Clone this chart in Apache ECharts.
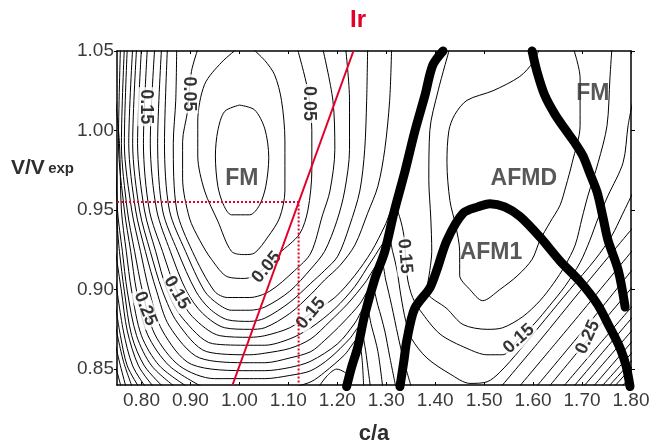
<!DOCTYPE html>
<html>
<head>
<meta charset="utf-8">
<script src="https://cdn.jsdelivr.net/npm/echarts@6/dist/echarts.min.js"></script>
<style>
  html, body { margin: 0; padding: 0; background: #fff; }
  #chart { width: 649px; height: 445px; }
</style>
</head>
<body>
<div id="chart"></div>
<script>
// tick values
const xTicks = [0.8, 0.9, 1.0, 1.1, 1.2, 1.3, 1.4, 1.5, 1.6, 1.7, 1.8];
const yTicks = [0.85, 0.90, 0.95, 1.00, 1.05];

// energy contours, points are [c/a, V/Vexp]
// FM basin (left), step 0.02
const fm01 = [[1.000,1.016],[1.031,1.013],[1.052,1.001],[1.060,0.983],[1.054,0.965],[1.041,0.953],[1.021,0.947],[0.984,0.947],[0.968,0.953],[0.956,0.965],[0.951,0.984],[0.956,1.000],[0.970,1.012],[1.000,1.016]];
const fm03 = [[0.998,1.052],[0.964,1.043],[0.929,1.029],[0.915,1.006],[0.915,0.984],[0.929,0.962],[0.956,0.943],[0.984,0.924],[1.011,0.922],[1.031,0.923],[1.058,0.933],[1.082,0.945],[1.093,0.962],[1.093,0.994],[1.086,1.019],[1.072,1.035],[1.052,1.044],[1.025,1.052]];
const fm05 = [[0.916,1.052],[0.902,1.037],[0.894,1.012],[0.884,0.993],[0.884,0.970],[0.898,0.945],[0.919,0.931],[0.943,0.919],[0.976,0.908],[1.011,0.907],[1.037,0.910],[1.082,0.923],[1.123,0.935],[1.140,0.950],[1.148,0.975],[1.148,1.000],[1.140,1.025],[1.118,1.052]];
const fm07 = [[0.872,1.052],[0.870,1.019],[0.865,0.992],[0.872,0.950],[0.904,0.924],[0.949,0.899],[0.976,0.895],[1.021,0.895],[1.062,0.899],[1.113,0.912],[1.146,0.923],[1.170,0.947],[1.185,0.962],[1.195,0.988],[1.191,1.019],[1.170,1.052]];
const fm09 = [[0.853,1.052],[0.847,0.992],[0.857,0.950],[0.890,0.924],[0.929,0.899],[0.956,0.891],[0.984,0.887],[1.021,0.887],[1.052,0.889],[1.103,0.899],[1.146,0.913],[1.174,0.924],[1.199,0.943],[1.215,0.962],[1.225,0.988],[1.225,1.019],[1.217,1.052]];
const fm11 = [[0.841,1.052],[0.833,0.992],[0.843,0.950],[0.874,0.924],[0.911,0.899],[0.939,0.888],[0.976,0.881],[1.021,0.880],[1.052,0.882],[1.103,0.892],[1.146,0.904],[1.174,0.912],[1.201,0.921],[1.225,0.940],[1.246,0.962],[1.256,0.988],[1.260,1.019],[1.262,1.052]];
const fm13 = [[0.827,1.052],[0.818,0.992],[0.831,0.950],[0.859,0.924],[0.892,0.899],[0.925,0.885],[0.970,0.876],[1.021,0.875],[1.052,0.876],[1.103,0.885],[1.146,0.897],[1.174,0.906],[1.205,0.915],[1.236,0.928],[1.262,0.948],[1.283,0.965],[1.297,0.988],[1.307,1.019],[1.311,1.052]];
const fm15 = [[0.812,1.052],[0.804,0.992],[0.816,0.950],[0.843,0.924],[0.872,0.899],[0.904,0.883],[0.960,0.871],[1.021,0.870],[1.052,0.871],[1.103,0.876],[1.146,0.885],[1.195,0.895],[1.236,0.909],[1.270,0.924],[1.297,0.940],[1.317,0.953],[1.328,0.945],[1.336,0.934],[1.340,0.919],[1.344,0.906],[1.354,0.895],[1.369,0.887],[1.410,0.872],[1.465,0.863],[1.506,0.859],[1.538,0.859],[1.571,0.869],[1.604,0.879],[1.634,0.890],[1.665,0.902],[1.696,0.917],[1.716,0.931],[1.733,0.945],[1.753,0.959],[1.784,0.980],[1.794,1.003],[1.804,1.019]];
const fm17 = [[0.800,1.052],[0.792,0.992],[0.806,0.950],[0.829,0.924],[0.853,0.899],[0.884,0.882],[0.945,0.866],[1.021,0.865],[1.052,0.865],[1.103,0.869],[1.146,0.876],[1.195,0.888],[1.236,0.902],[1.270,0.918],[1.305,0.932],[1.313,0.924],[1.322,0.912],[1.330,0.896],[1.340,0.880],[1.352,0.869],[1.383,0.857],[1.430,0.847],[1.471,0.841],[1.506,0.842],[1.532,0.848],[1.573,0.862],[1.624,0.881],[1.675,0.900],[1.727,0.919],[1.761,0.934],[1.782,0.947],[1.804,0.961]];
const fm19 = [[0.790,1.052],[0.782,0.992],[0.796,0.950],[0.818,0.924],[0.843,0.899],[0.874,0.879],[0.933,0.861],[1.021,0.859],[1.052,0.860],[1.103,0.863],[1.146,0.869],[1.185,0.880],[1.221,0.891],[1.256,0.904],[1.289,0.918],[1.299,0.906],[1.311,0.890],[1.324,0.871],[1.336,0.855],[1.352,0.838]];
const fm21 = [[0.782,1.052],[0.774,0.992],[0.788,0.950],[0.808,0.924],[0.831,0.899],[0.857,0.877],[0.919,0.857],[1.021,0.854],[1.052,0.854],[1.103,0.857],[1.146,0.861],[1.174,0.868],[1.211,0.879],[1.246,0.891],[1.270,0.902],[1.283,0.890],[1.297,0.874],[1.307,0.858],[1.320,0.838]];
const fm23 = [[0.771,1.052],[0.765,0.992],[0.780,0.950],[0.798,0.924],[0.816,0.899],[0.843,0.874],[0.902,0.853],[1.021,0.849],[1.052,0.849],[1.103,0.851],[1.146,0.855],[1.201,0.866],[1.236,0.879],[1.258,0.890],[1.270,0.877],[1.283,0.861],[1.293,0.838]];
const fm25 = [[0.765,1.052],[0.759,0.992],[0.771,0.950],[0.786,0.924],[0.802,0.899],[0.827,0.872],[0.878,0.852],[0.949,0.844],[1.021,0.844],[1.052,0.844],[1.103,0.846],[1.146,0.849],[1.185,0.857],[1.225,0.869],[1.246,0.877],[1.256,0.865],[1.262,0.852],[1.268,0.838]];
const fm27 = [[0.757,1.052],[0.753,0.992],[0.765,0.950],[0.778,0.924],[0.790,0.899],[0.812,0.872],[0.857,0.852],[0.929,0.838]];
const fm29 = [[0.747,1.019],[0.755,0.992],[0.759,0.950],[0.769,0.924],[0.780,0.899],[0.800,0.871],[0.837,0.852],[0.898,0.838]];
const fm31 = [[0.747,0.988],[0.751,0.950],[0.761,0.924],[0.771,0.899],[0.790,0.871],[0.821,0.852],[0.872,0.838]];
const fm33 = [[0.747,0.953],[0.755,0.924],[0.765,0.899],[0.780,0.871],[0.806,0.852],[0.847,0.838]];
const fm35 = [[0.747,0.924],[0.759,0.899],[0.771,0.874],[0.794,0.852],[0.827,0.838]];
const fm37 = [[0.747,0.906],[0.763,0.874],[0.782,0.852],[0.810,0.838]];
const fm39 = [[0.747,0.890],[0.757,0.871],[0.771,0.852],[0.796,0.838]];
const fm41 = [[0.747,0.877],[0.763,0.855],[0.782,0.838]];
const fm43 = [[0.747,0.865],[0.757,0.852],[0.769,0.838]];
const fm45 = [[0.747,0.852],[0.759,0.838]];
// pieces near the bottom, left of the first boundary
const mid27 = [[1.103,0.838],[1.146,0.842],[1.174,0.848],[1.215,0.859],[1.242,0.869],[1.250,0.858],[1.254,0.838]];
const mid29 = [[1.160,0.838],[1.180,0.846],[1.199,0.850],[1.215,0.848],[1.229,0.844]];
// AFMD / AFM1 side
const afm11 = [[1.614,1.052],[1.600,1.043],[1.573,1.034],[1.518,1.025],[1.465,1.019],[1.440,1.010],[1.428,1.000],[1.424,0.980],[1.430,0.956],[1.442,0.940],[1.450,0.924],[1.450,0.909],[1.471,0.900],[1.497,0.893],[1.532,0.900],[1.569,0.909],[1.598,0.919],[1.614,0.931],[1.634,0.942],[1.655,0.953],[1.667,0.965],[1.680,0.980],[1.696,1.003],[1.696,1.033],[1.682,1.052]];
const afm13 = [[1.430,1.052],[1.406,1.025],[1.389,1.000],[1.387,0.969],[1.391,0.945],[1.393,0.924],[1.389,0.912],[1.383,0.899],[1.424,0.888],[1.457,0.878],[1.506,0.875],[1.538,0.876],[1.579,0.883],[1.614,0.893],[1.642,0.904],[1.665,0.915],[1.686,0.928],[1.700,0.945],[1.712,0.959],[1.733,0.980],[1.751,1.003],[1.757,1.033],[1.761,1.052]];
// steep lines in the lower right corner
const hr19 = [[1.532,0.838],[1.614,0.868],[1.696,0.899],[1.804,0.939]];
const hr21 = [[1.569,0.838],[1.686,0.881],[1.804,0.925]];
const hr23 = [[1.604,0.838],[1.704,0.875],[1.804,0.913]];
const hr25 = [[1.630,0.838],[1.716,0.870],[1.804,0.902]];
const hr27 = [[1.659,0.838],[1.731,0.864],[1.804,0.890]];
const hr29 = [[1.680,0.838],[1.804,0.883]];
const hr31 = [[1.700,0.838],[1.804,0.875]];
const hr33 = [[1.720,0.838],[1.804,0.868]];
const hr35 = [[1.737,0.838],[1.804,0.861]];
const hr37 = [[1.751,0.838],[1.804,0.856]];
const hr39 = [[1.763,0.838],[1.804,0.852]];
const hr41 = [[1.778,0.838],[1.804,0.847]];
const hr43 = [[1.792,0.838],[1.804,0.842]];

// phase boundaries (thick black)
const bound1 = [[1.219,0.839],[1.229,0.851],[1.242,0.864],[1.256,0.884],[1.277,0.907],[1.297,0.924],[1.317,0.950],[1.338,0.974],[1.358,0.999],[1.379,1.022],[1.395,1.041],[1.416,1.050]];
const bound2 = [[1.328,0.839],[1.336,0.855],[1.342,0.868],[1.358,0.888],[1.389,0.901],[1.403,0.912],[1.424,0.931],[1.457,0.948],[1.487,0.952],[1.512,0.954],[1.542,0.952],[1.573,0.946],[1.614,0.933],[1.655,0.918],[1.696,0.905],[1.731,0.891],[1.757,0.876],[1.778,0.863],[1.790,0.852],[1.798,0.839]];
const bound3 = [[1.598,1.050],[1.608,1.037],[1.624,1.022],[1.645,1.010],[1.665,1.001],[1.686,0.992],[1.702,0.984],[1.716,0.973],[1.731,0.961],[1.743,0.945],[1.753,0.931],[1.774,0.912],[1.788,0.889]];

// Ir line and the read-off point
const irLine = [[0.986,0.84],[1.233,1.05]];
const irPoint = [1.121, 0.955];

// contour labels
const cLabelPos = [[0.810,1.015],[0.898,1.023],[1.142,1.017],[0.808,0.888],[0.872,0.898],[1.056,0.914],[1.146,0.885],[1.338,0.921],[1.571,0.869],[1.712,0.870]];
const cLabelText = ['0.15','0.05','0.05','0.25','0.15','0.05','0.15','0.15','0.15','0.25'];
const cLabelRot = [-90, -90, -90, -68, -60, 50, 50, -85, 42, 65];

// phase names
const phasePos = [[1.005,0.970],[1.581,0.970],[1.514,0.923],[1.722,1.023]];
const phaseText = ['FM','AFMD','AFM1','FM'];

const contours = [fm01, fm03, fm05, fm07, fm09, fm11, fm13, fm15, fm17, fm19, fm21, fm23, fm25,
  fm27, fm29, fm31, fm33, fm35, fm37, fm39, fm41, fm43, fm45, mid27, mid29, afm11, afm13,
  hr19, hr21, hr23, hr25, hr27, hr29, hr31, hr33, hr35, hr37, hr39, hr41, hr43];
const bounds = [bound1, bound2, bound3];

const FONT = 'Liberation Sans';
const RED = '#e2002b';

const series = [];
contours.forEach(d => {
  series.push({
    type: 'line', data: d, showSymbol: false, smooth: 0.3, silent: true, z: 2,
    lineStyle: { color: '#000', width: 1 }
  });
});
series.push({
  type: 'scatter', data: cLabelPos.map((p, i) => ({
    value: p, label: { formatter: cLabelText[i], rotate: cLabelRot[i] }
  })),
  symbolSize: 1, itemStyle: { color: 'rgba(0,0,0,0)' }, silent: true, z: 3,
  label: {
    show: true, position: 'inside', fontSize: 18, fontWeight: 'bold', color: '#000',
    fontFamily: FONT, backgroundColor: '#fff', padding: [0, 2]
  }
});
series.push({
  type: 'line', data: irLine, showSymbol: false, silent: true, z: 4,
  lineStyle: { color: RED, width: 2 }
});
series.push({
  type: 'line', data: [[0.75, irPoint[1]], irPoint, [irPoint[0], 0.84]], showSymbol: false, silent: true, z: 4,
  lineStyle: { color: RED, width: 2, type: [2, 2] }
});
bounds.forEach(d => {
  series.push({
    type: 'line', data: d, showSymbol: false, smooth: 0.3, silent: true, z: 5, clip: false,
    lineStyle: { color: '#000', width: 9, cap: 'round', join: 'round' }
  });
});
series.push({
  type: 'scatter', data: phasePos.map((p, i) => ({ value: p, label: { formatter: phaseText[i] } })),
  symbolSize: 1, itemStyle: { color: 'rgba(0,0,0,0)' }, silent: true, z: 6,
  label: { show: true, position: 'inside', fontSize: 23, fontWeight: 'bold', color: '#2e2e2e', fontFamily: FONT }
});

const chart = echarts.init(document.getElementById('chart'));
chart.setOption({
  animation: false,
  backgroundColor: '#fff',
  textStyle: { fontFamily: FONT },
  grid: { left: 117, right: 18, top: 51, bottom: 60, outerBoundsMode: 'none' },
  xAxis: [{
    type: 'value', min: 0.75, max: 1.8, position: 'bottom',
    name: 'c/a', nameLocation: 'middle', nameGap: 38,
    nameTextStyle: { fontSize: 22, fontWeight: 'bold', color: '#2e2e2e', fontFamily: FONT },
    axisLine: { lineStyle: { color: '#000', width: 1.5 } },
    axisTick: { inside: true, length: 3, customValues: xTicks, lineStyle: { color: '#000' } },
    axisLabel: { customValues: xTicks, formatter: v => v.toFixed(2), fontSize: 19, color: '#3a3a3a', margin: 6, fontFamily: FONT },
    splitLine: { show: false }
  }, {
    type: 'value', min: 0.75, max: 1.8, position: 'top',
    axisLine: { show: true, lineStyle: { color: '#000', width: 1.5 } },
    axisTick: { show: true, inside: true, length: 3, customValues: xTicks, lineStyle: { color: '#000' } },
    axisLabel: { show: false }, splitLine: { show: false }
  }],
  yAxis: [{
    type: 'value', min: 0.84, max: 1.05, position: 'left',
    axisLine: { show: true, lineStyle: { color: '#000', width: 1.5 } },
    axisTick: { show: true, inside: false, length: 3, customValues: yTicks, lineStyle: { color: '#000' } },
    axisLabel: { customValues: yTicks, formatter: v => v.toFixed(2), fontSize: 19, color: '#3a3a3a', margin: 3, padding: [5, 0, 0, 0], fontFamily: FONT },
    splitLine: { show: false }
  }, {
    type: 'value', min: 0.84, max: 1.05, position: 'right',
    axisLine: { show: true, lineStyle: { color: '#000', width: 1.5 } },
    axisTick: { show: true, inside: false, length: 4, customValues: yTicks, lineStyle: { color: '#000' } },
    axisLabel: { show: false }, splitLine: { show: false }
  }],
  graphic: [{
    type: 'text', left: 11, top: 158,
    style: {
      text: '{a|V/V} {b|exp}',
      rich: {
        a: { fontSize: 21, fontWeight: 'bold', fill: '#2e2e2e', fontFamily: FONT },
        b: { fontSize: 15, fontWeight: 'bold', fill: '#2e2e2e', fontFamily: FONT }
      }
    }
  }, {
    type: 'text', left: 350, top: 8,
    style: { text: 'Ir', fontSize: 24, fontWeight: 'bold', fill: RED, fontFamily: FONT }
  }],
  series: series
});
</script>
</body>
</html>
